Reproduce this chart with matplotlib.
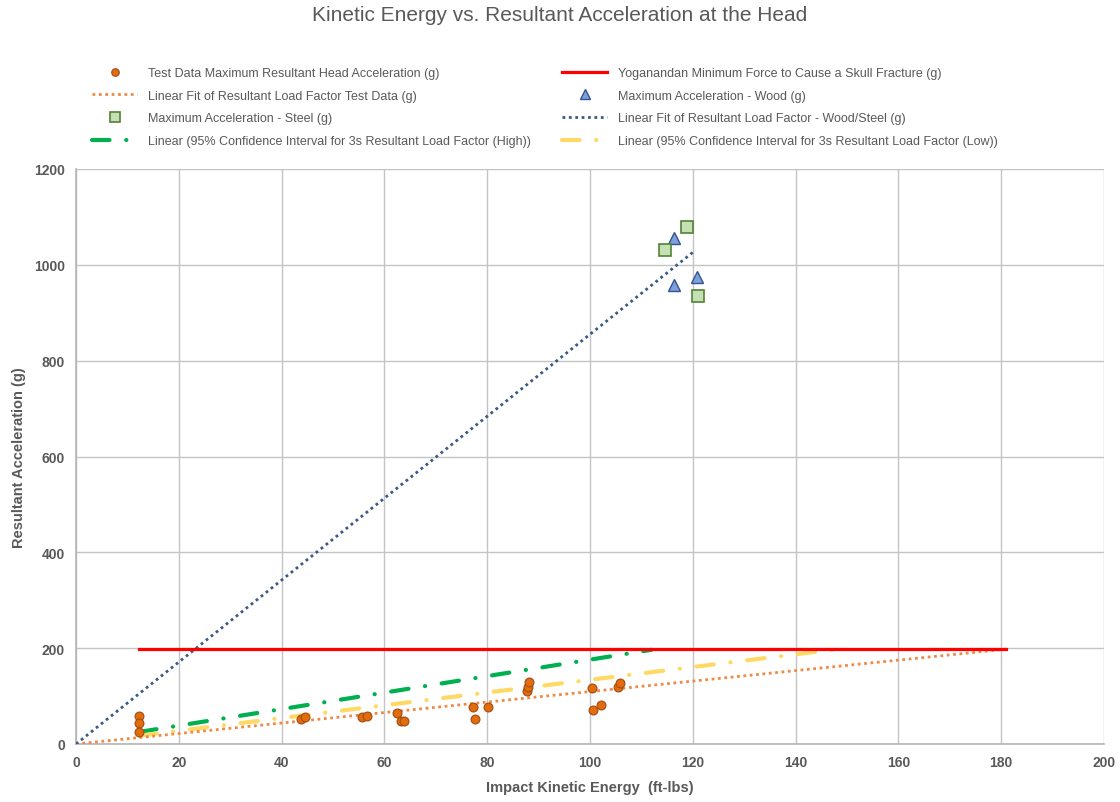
import numpy as np
import matplotlib
matplotlib.use("Agg")
import matplotlib.pyplot as plt

# --- data --------------------------------------------------------------
test_ke = [12.3, 12.3, 12.3, 43.7, 44.5, 55.6, 56.7, 62.5, 63.2, 63.8, 77.2,
           77.6, 80.2, 87.8, 88.0, 88.2, 100.3, 100.5, 102.1, 105.4, 105.8]
test_acc = [58, 43, 25, 52, 57, 56, 59, 65, 47, 47, 77,
            52, 77, 111, 120, 130, 117, 71, 81, 120, 127]

wood_ke = [116.4, 116.4, 120.8]
wood_acc = [1057, 958, 974]
steel_ke = [114.5, 118.8, 121.0]
steel_acc = [1031, 1078, 934]

# fit lines: (slope, intercept, x range)
test_fit = (1.094, 0.0, (0.0, 181.0))
ws_fit = (8.55, 0.0, (0.0, 120.0))
ci_high = (1.72, 4.0, (12.3, 112.0))
ci_low = (1.33, 1.0, (12.3, 148.0))
skull_g = 198
skull_range = (12.3, 181.0)

TITLE = "Kinetic Energy vs. Resultant Acceleration at the Head"
XLABEL = "Impact Kinetic Energy  (ft-lbs)"
YLABEL = "Resultant Acceleration (g)"

GRAY = "#595959"
plt.rcParams["font.family"] = ["Liberation Sans", "DejaVu Sans"]


def fit_xy(fit):
    m, b, (x0, x1) = fit
    x = np.array([x0, x1])
    return x, m * x + b


fig = plt.figure(figsize=(11.2, 8.03), dpi=100)
ax = fig.add_axes([76 / 1120, 1 - 745 / 803, (1104 - 76) / 1120, (745 - 170) / 803])

ax.set_xlim(0, 200)
ax.set_ylim(0, 1200)
ax.set_xticks(np.arange(0, 201, 20))
ax.set_yticks(np.arange(0, 1201, 200))
ax.grid(True, color="#C4C4C4", lw=1.0)
ax.set_axisbelow(True)
for s in ["top", "right"]:
    ax.spines[s].set_visible(False)
for s in ["left", "bottom"]:
    ax.spines[s].set_color("#B4B4B4")
    ax.spines[s].set_linewidth(1.2)
ax.tick_params(length=0, colors=GRAY, labelsize=10, pad=8)
for lab in ax.get_xticklabels() + ax.get_yticklabels():
    lab.set_fontweight("bold")

dashdot = dict(dashes=[4.2, 4.0, 0.05, 4.0], dash_capstyle="round",
               solid_capstyle="round")

x, y = fit_xy(ci_high)
h_green, = ax.plot(x, y, color="#00B050", lw=3.0, zorder=3,
                   label="Linear (95% Confidence Interval for 3s Resultant Load Factor (High))",
                   **dashdot)
x, y = fit_xy(ci_low)
h_yellow, = ax.plot(x, y, color="#FFD966", lw=3.0, zorder=3,
                    label="Linear (95% Confidence Interval for 3s Resultant Load Factor (Low))",
                    **dashdot)
x, y = fit_xy(test_fit)
h_ofit, = ax.plot(x, y, color="#EE8A45", lw=2.0, ls=(0, (1, 1.3)), zorder=4,
                  label="Linear Fit of Resultant Load Factor Test Data (g)")
x, y = fit_xy(ws_fit)
h_bfit, = ax.plot(x, y, color="#3A5A86", lw=2.0, ls=(0, (1, 1.3)), zorder=4,
                  label="Linear Fit of Resultant Load Factor - Wood/Steel (g)")
h_red, = ax.plot(skull_range, [skull_g, skull_g], color="#FF0000", lw=2.3, zorder=5,
                 label="Yoganandan Minimum Force to Cause a Skull Fracture (g)")

h_test, = ax.plot(test_ke, test_acc, ls="none", marker="o", ms=6.3,
                  mfc="#E46C0A", mec="#A5501A", mew=0.9, zorder=6,
                  label="Test Data Maximum Resultant Head Acceleration (g)")
h_wood, = ax.plot(wood_ke, wood_acc, ls="none", marker="^", ms=9,
                  mfc="#7F9FD5", mec="#2F5597", mew=1.0, zorder=6,
                  label="Maximum Acceleration - Wood (g)")
h_steel, = ax.plot(steel_ke, steel_acc, ls="none", marker="s", ms=8,
                   mfc="#C5E0B4", mec="#548235", mew=1.2, zorder=6,
                   label="Maximum Acceleration - Steel (g)")

ax.set_xlabel(XLABEL, color=GRAY, fontsize=10.5, fontweight="bold", labelpad=8)
ax.set_ylabel(YLABEL, color=GRAY, fontsize=10.5, fontweight="bold", labelpad=6)
fig.suptitle(TITLE, color=GRAY, fontsize=15, y=0.992)

leg_kw = dict(frameon=False, fontsize=9, handlelength=3.6, handletextpad=0.9,
              labelspacing=0.85, borderpad=0, borderaxespad=0, labelcolor=GRAY,
              loc="upper left", markerscale=0.85)
left = [h_test, h_ofit, h_steel, h_green]
right = [h_red, h_wood, h_bfit, h_yellow]
fig.legend(handles=left, labels=[h.get_label() for h in left],
           bbox_to_anchor=(92 / 1120, 1 - 68 / 803), **leg_kw)
fig.legend(handles=right, labels=[h.get_label() for h in right],
           bbox_to_anchor=(562 / 1120, 1 - 68 / 803), **leg_kw)

fig.savefig("out.png", dpi=100, facecolor="white")
